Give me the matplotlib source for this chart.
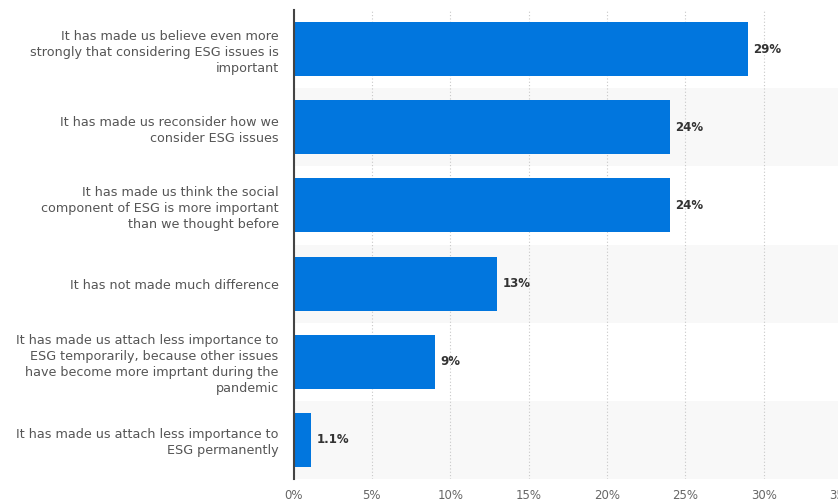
import matplotlib
matplotlib.use("Agg")
import matplotlib.pyplot as plt
from matplotlib.ticker import FixedLocator

categories = [
    "It has made us believe even more\nstrongly that considering ESG issues is\nimportant",
    "It has made us reconsider how we\nconsider ESG issues",
    "It has made us think the social\ncomponent of ESG is more important\nthan we thought before",
    "It has not made much difference",
    "It has made us attach less importance to\nESG temporarily, because other issues\nhave become more imprtant during the\npandemic",
    "It has made us attach less importance to\nESG permanently",
]
values = [29, 24, 24, 13, 9, 1.1]
value_labels = ["29%", "24%", "24%", "13%", "9%", "1.1%"]
xticks = [0, 5, 10, 15, 20, 25, 30, 35]
xtick_labels = ["0%", "5%", "10%", "15%", "20%", "25%", "30%", "35%"]

W, H = 838, 503
fig = plt.figure(figsize=(W / 100, H / 100), dpi=100)
left = 293.5 / W
right = 842.0 / W
top = 1 - 10 / H
bottom = 1 - 479 / H
ax = fig.add_axes([left, bottom, right - left, top - bottom])

n = len(categories)
ys = list(range(n))
ax.set_ylim(n - 0.5, -0.5)
ax.set_xlim(0, 35)

for i in ys:
    if i % 2 == 1:
        ax.axhspan(i - 0.5, i + 0.5, color="#f8f8f8", zorder=0, lw=0)

ax.barh(ys, values, height=0.69, color="#0176DE", zorder=3)
for y, v, lab in zip(ys, values, value_labels):
    ax.text(v + 0.35, y, lab, va="center", ha="left", fontsize=8.5,
            color="#333333", fontweight="bold", zorder=4)

ax.set_yticks(ys)
ax.set_yticklabels(categories, fontsize=9.2, color="#555555", linespacing=1.3)
ax.xaxis.set_major_locator(FixedLocator(xticks))
ax.set_xticklabels(xtick_labels, fontsize=8.5, color="#666666")
ax.tick_params(axis="both", length=0)
ax.tick_params(axis="y", pad=10.7)
ax.tick_params(axis="x", pad=7)
ax.grid(axis="x", linestyle=(0, (1, 2)), color="#c8c8c8", lw=0.8, zorder=1)
ax.set_axisbelow(True)
for s in ["top", "right", "bottom"]:
    ax.spines[s].set_visible(False)
ax.spines["left"].set_color("#444444")
ax.spines["left"].set_linewidth(1.5)
ax.spines["left"].set_zorder(5)
ax.patch.set_alpha(0)

fig.savefig("out.png", dpi=100)
